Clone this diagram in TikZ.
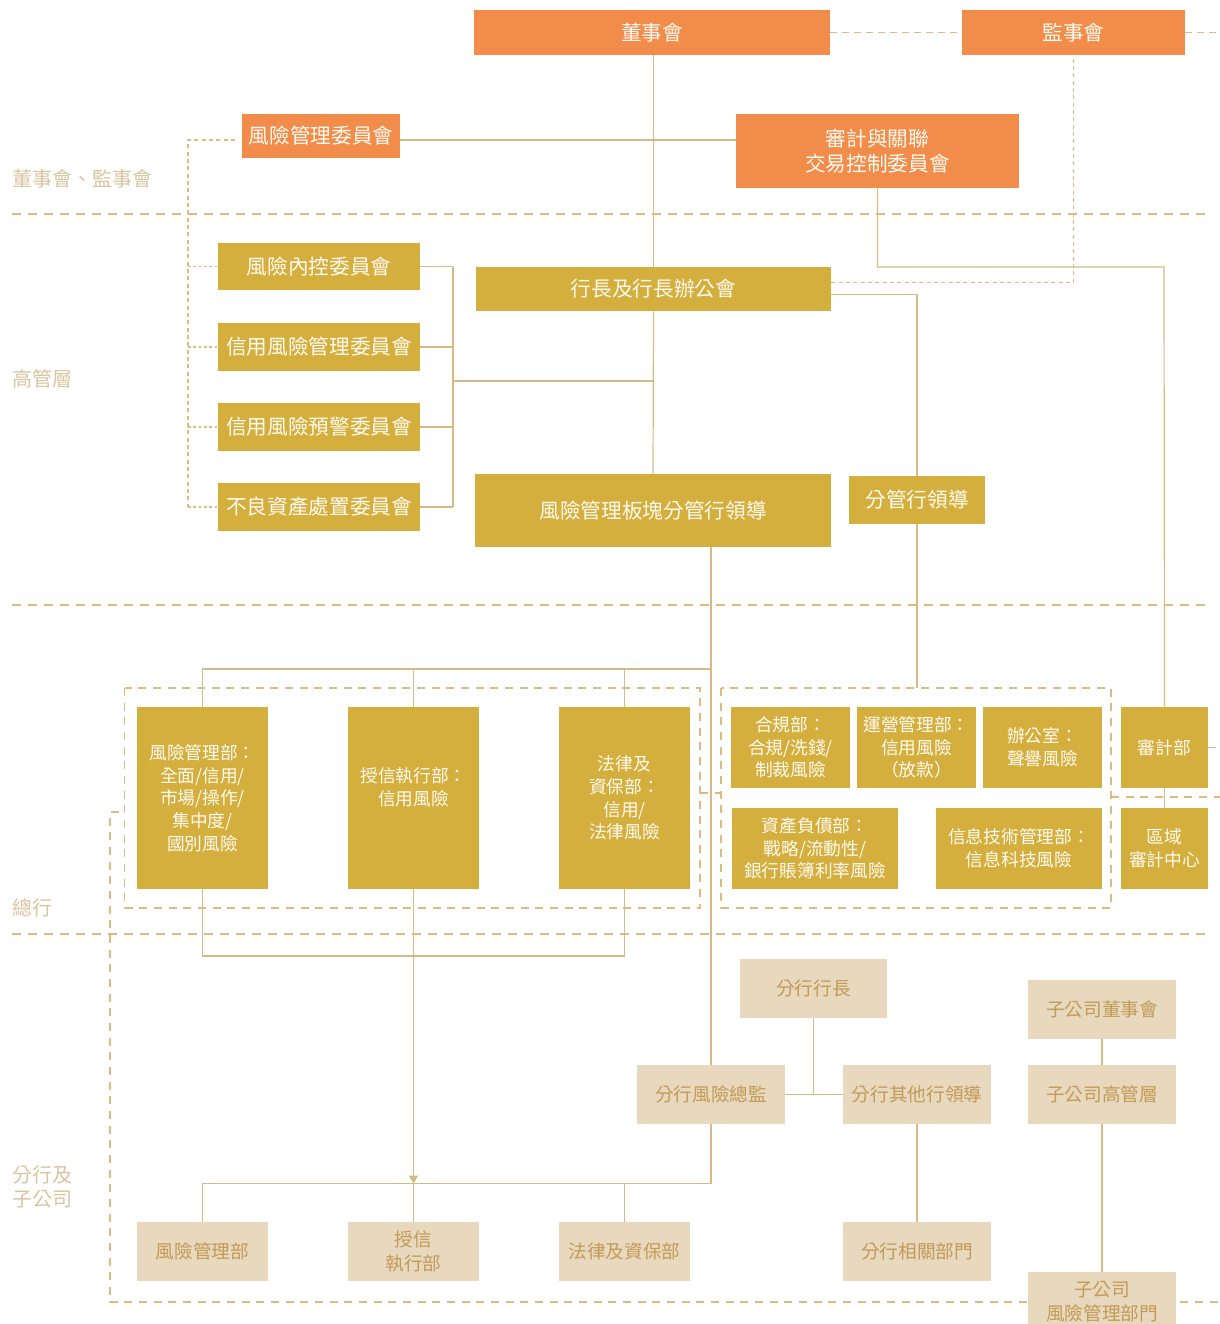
\documentclass[tikz,border=0pt]{standalone}
\usepackage{fontspec}
\setmainfont{Noto Sans CJK TC}
\usetikzlibrary{arrows.meta}
\definecolor{boardorange}{HTML}{F18C4A}
\definecolor{mgmtgold}{HTML}{D4AF3E}
\definecolor{branchbeige}{HTML}{E7D8BE}
\definecolor{linetan}{HTML}{D6BA86}
\definecolor{dashtan}{HTML}{DDBB80}
\definecolor{labeltan}{HTML}{D9C4A0}
\definecolor{browntext}{HTML}{C29B55}
\definecolor{boxwhite}{HTML}{FFFAF0}

\begin{document}
\begin{tikzpicture}[x=0.75pt, y=-0.75pt,
  sz/.style 2 args={minimum width=#1*0.75pt, minimum height=#2*0.75pt},
  box/.style={rectangle, inner sep=0pt, align=center},
  orangebox/.style={box, fill=boardorange, text=boxwhite, font=\fontsize{15.5}{19}\selectfont},
  goldbox/.style={box, fill=mgmtgold, text=boxwhite, font=\fontsize{15.5}{19}\selectfont},
  deptbox/.style={box, fill=mgmtgold, text=boxwhite, font=\fontsize{13.3}{17}\selectfont},
  beigebox/.style={box, fill=branchbeige, text=browntext, font=\fontsize{14}{18}\selectfont},
  levellabel/.style={anchor=west, inner sep=0pt, align=left, text=labeltan, font=\fontsize{15}{18}\selectfont},
  conn/.style={draw=linetan, line width=0.9pt},
  dotline/.style={draw=dashtan, line width=0.8pt, dash pattern=on 2pt off 2pt},
  linkline/.style={draw=dashtan, line width=0.8pt, dash pattern=on 3pt off 2.5pt},
  boardline/.style={draw=dashtan, line width=0.8pt, dash pattern=on 5pt off 4pt},
  sepline/.style={draw=dashtan, line width=0.8pt, dash pattern=on 7pt off 5pt},
  zoneline/.style={draw=dashtan, line width=0.8pt, dash pattern=on 6pt off 5pt}]
\useasboundingbox (0,0) rectangle (1220,1324);

\draw[sepline] (12,214) -- (1208,214);
\draw[sepline] (12,605) -- (1208,605);
\draw[sepline] (12,934) -- (1208,934);
\draw[zoneline] (124.5,688) rectangle (700,908);
\draw[zoneline] (721,688) rectangle (1111,908);
\draw[zoneline] (119,812) -- (110,812) -- (110,1302) -- (1220,1302);
\draw[zoneline] (700,793) -- (721,793);
\draw[zoneline] (1111,797) -- (1220,797);

\node[levellabel] (lv_board) at (12,179) {董事會、監事會};
\node[levellabel] (lv_senior) at (12,379) {高管層};
\node[levellabel] (lv_head) at (12,908) {總行};
\node[levellabel] (lv_branch) at (12,1187) {分行及\\子公司};

\node[orangebox, sz={356}{45}] (dsh) at (652,32.5) {董事會};
\node[orangebox, sz={223}{45}] (jsh) at (1073.5,32.5) {監事會};
\node[orangebox, sz={158}{44}] (fxglw) at (321,136) {風險管理委員會};
\node[orangebox, sz={283}{74}] (sjgl) at (877.5,151) {審計與關聯\\交易控制委員會};

\node[goldbox, sz={355}{44}] (hz) at (653.5,289) {行長及行長辦公會};
\node[goldbox, sz={202}{47}] (fxnk) at (319,266.5) {風險內控委員會};
\node[goldbox, sz={202}{48}] (xygl) at (319,347) {信用風險管理委員會};
\node[goldbox, sz={202}{48}] (xyyj) at (319,427) {信用風險預警委員會};
\node[goldbox, sz={202}{48}] (blzc) at (319,507) {不良資產處置委員會};
\node[goldbox, sz={356}{73}] (fxbk) at (653,510.5) {風險管理板塊分管行領導};
\node[goldbox, sz={136}{48}] (fgld) at (917,500) {分管行領導};

\node[deptbox, sz={131}{182}] (zh_fxgl) at (202.5,798) {風險管理部：\\全面/信用/\\市場/操作/\\集中度/\\國別風險};
\node[deptbox, sz={131}{182}] (zh_sx) at (413.5,798) {授信執行部：\\信用風險\\\mbox{}};
\node[deptbox, sz={131}{182}] (zh_fl) at (624.5,798) {法律及\\資保部：\\信用/\\法律風險};
\node[deptbox, sz={119}{81}] (zh_hg) at (790.5,747.5) {合規部：\\合規/洗錢/\\制裁風險};
\node[deptbox, sz={119}{81}] (zh_yy) at (916.5,747.5) {運營管理部：\\信用風險\\（放款）};
\node[deptbox, sz={119}{81}] (zh_bgs) at (1042.5,747.5) {辦公室：\\聲譽風險};
\node[deptbox, sz={87}{81}] (zh_sj) at (1164.5,747.5) {審計部};
\node[deptbox, sz={166}{81}] (zh_zc) at (815,848.5) {資產負債部：\\戰略/流動性/\\銀行賬簿利率風險};
\node[deptbox, sz={166}{81}] (zh_xx) at (1019,848.5) {信息技術管理部：\\信息科技風險};
\node[deptbox, sz={87}{81}] (zh_qy) at (1164.5,848.5) {區域\\審計中心};

\node[beigebox, sz={147}{59}] (fh_hz) at (813.5,988.5) {分行行長};
\node[beigebox, sz={148}{59}] (fh_zj) at (711,1094.5) {分行風險總監};
\node[beigebox, sz={148}{59}] (fh_qt) at (917,1094.5) {分行其他行領導};
\node[beigebox, sz={131}{59}] (fh_fxgl) at (202.5,1251.5) {風險管理部};
\node[beigebox, sz={131}{59}] (fh_sx) at (413.5,1251.5) {授信\\執行部};
\node[beigebox, sz={131}{59}] (fh_fl) at (624.5,1251.5) {法律及資保部};
\node[beigebox, sz={148}{59}] (fh_xg) at (917,1251.5) {分行相關部門};
\node[beigebox, sz={148}{59}] (zgs_dsh) at (1102,1009.5) {子公司董事會};
\node[beigebox, sz={148}{59}] (zgs_gg) at (1102,1094.5) {子公司高管層};
\node[beigebox, sz={148}{59}] (zgs_fx) at (1102,1301.5) {子公司\\風險管理部門};

\coordinate (lbus) at (188,0);
\coordinate (rbus) at (453,381);
\coordinate (sjturn) at (1164,267);
\coordinate (rzone) at (917,688);
\coordinate (hobus) at (711,669);
\coordinate (hobot) at (413,956);
\coordinate (brbus) at (711,1183.5);

\draw[conn] (hz.north |- dsh.south) -- (hz.north);
\draw[conn] (hz.south) -- (fxbk.north);
\draw[conn] ([yshift=-3pt]fxglw.east) -- ([yshift=-3pt]fxglw.east -| sjgl.west);
\draw[linkline] ([xshift=-5pt,yshift=-3pt]fxglw.west) -- ([yshift=-3pt]fxglw.west -| lbus) -- (blzc.west -| lbus);
\foreach \c in {fxnk,xygl,xyyj,blzc}
  \draw[dotline] (\c.west -| lbus) -- (\c.west);
\foreach \c in {fxnk,xygl,xyyj,blzc}
  \draw[conn] (\c.east) -- (\c.east -| rbus);
\draw[conn] (fxnk.east -| rbus) -- (blzc.east -| rbus);
\draw[conn] (rbus) -- (rbus -| hz.south);
\draw[conn] ([yshift=-4pt]hz.east) -| (fgld.north);
\draw[linkline] ([yshift=5pt]hz.east) -| (jsh.south);
\draw[conn] (sjgl.south) |- (sjturn) -- (zh_sj.north);
\draw[conn] (fgld.south) -- (rzone);
\draw[conn] (zh_sj.south) -- (zh_qy.north);

\draw[conn] (fxbk.south -| fh_zj.north) -- (fh_zj.north);
\draw[conn] (hobus) -| (zh_fxgl.north);
\foreach \c in {zh_sx,zh_fl}
  \draw[conn] (\c.north |- hobus) -- (\c.north);
\draw[conn] (zh_fxgl.south) -- (zh_fxgl.south |- hobot) -- (zh_fl.south |- hobot) -- (zh_fl.south);
\draw[conn, -{Triangle[width=7pt,length=6pt]}] (zh_sx.south) -- (zh_sx.south |- brbus);

\draw[conn] (fh_zj.south) -- (brbus) -| (fh_fxgl.north);
\foreach \c in {fh_sx,fh_fl}
  \draw[conn] (\c.north |- brbus) -- (\c.north);
\draw[conn] (fh_zj.east) -- (fh_qt.west);
\draw[conn] (fh_hz.south) -- (fh_hz.south |- fh_zj.east);
\draw[conn] (fh_qt.south) -- (fh_xg.north);
\draw[conn] (zgs_dsh.south) -- (zgs_gg.north);
\draw[conn] (zgs_gg.south) -- (zgs_fx.north);
\draw[zoneline] (zh_sj.east) -- (zh_sj.east -| 1220,0);
\draw[boardline] (dsh.east) -- (jsh.west);
\draw[boardline] (jsh.east) -- (jsh.east -| 1220,0);
\end{tikzpicture}
\end{document}
